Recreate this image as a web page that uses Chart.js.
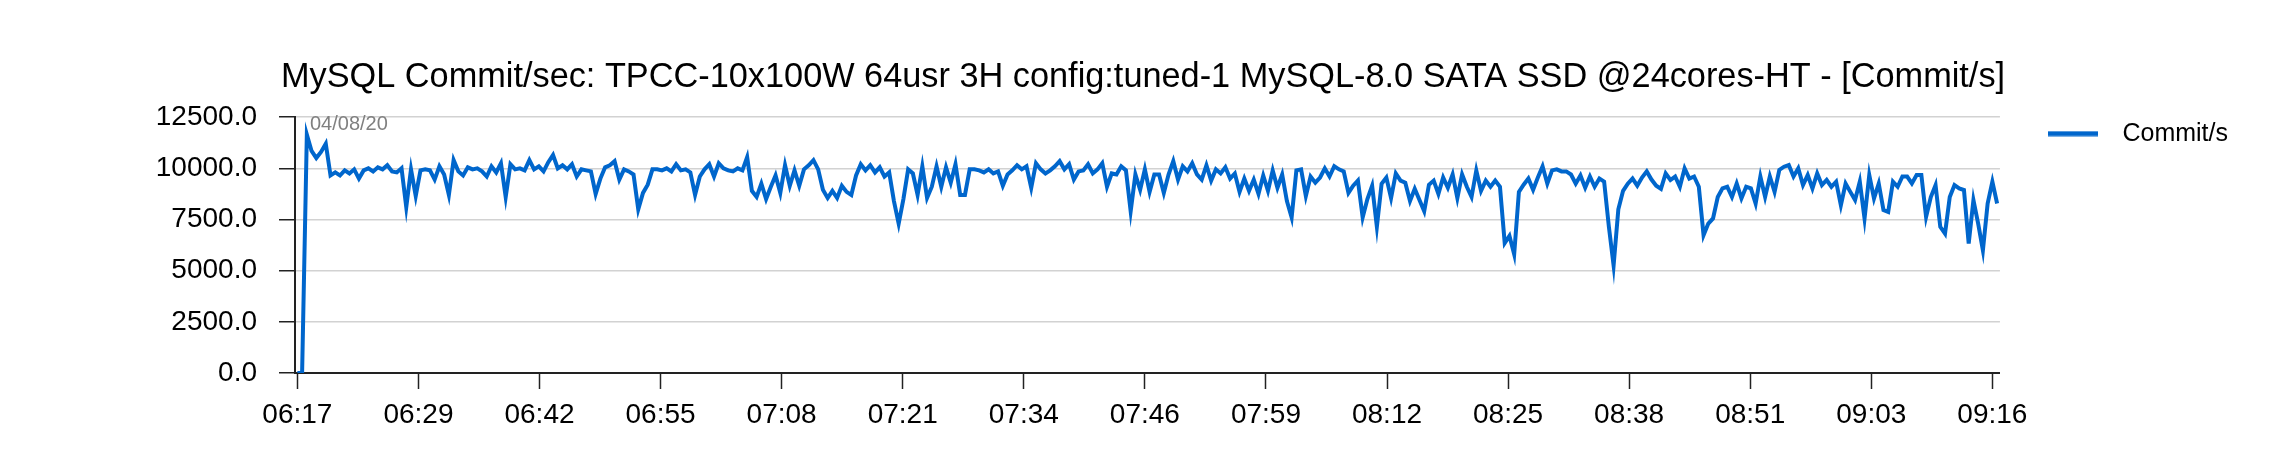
<!DOCTYPE html>
<html>
<head>
<meta charset="utf-8">
<title>MySQL Commit/sec</title>
<script src="https://cdn.jsdelivr.net/npm/chart.js@4.4.1/dist/chart.umd.min.js"></script>
<style>
  html, body { margin: 0; padding: 0; background: #fff; }
  #wrap { width: 2286px; height: 473px; }
</style>
</head>
<body>
<div id="wrap"><canvas id="chart" width="2286" height="473"></canvas></div>
<script>
const titleText = 'MySQL Commit/sec: TPCC-10x100W 64usr 3H config:tuned-1 MySQL-8.0 SATA SSD @24cores-HT - [Commit/s]'
const seriesName = 'Commit/s'
const dateLabel = '04/08/20'

// one sample every 30 sec, starting 06:17
const sampleMinutes = 0.5
const tickLabels = ['06:17', '06:29', '06:42', '06:55', '07:08', '07:21', '07:34', '07:46',
  '07:59', '08:12', '08:25', '08:38', '08:51', '09:03', '09:16']
const tickStepMinutes = 179 / 14
const yTicks = [0, 2500, 5000, 7500, 10000, 12500]

const commits = [
  // 06:17 - 06:53
  0, 0, 11650, 10850, 10500, 10800, 11200, 9650, 9800, 9650,
  9900, 9750, 9950, 9500, 9900, 10000, 9850, 10050, 9950, 10150,
  9850, 9800, 10000, 8100, 9950, 8650, 9900, 9950, 9900, 9450,
  10100, 9700, 8700, 10400, 9850, 9650, 10050, 9950, 10000, 9850,
  9600, 10100, 9800, 10250, 8600, 10200, 9950, 10000, 9900, 10400,
  9950, 10100, 9850, 10300, 10650, 10000, 10150, 9950, 10200, 9600,
  9950, 9900, 9850, 8750, 9500, 10050, 10150, 10350, 9450, 9950,
  9850, 9700,
  // 06:53 - 07:29
  8000, 8800, 9200, 9950, 9950, 9900, 10000, 9850, 10200, 9900,
  9950, 9800, 8700, 9600, 9950, 10200, 9600, 10250, 10000, 9900,
  9850, 10000, 9900, 10550, 8900, 8600, 9250, 8500, 9100, 9650,
  8800, 10150, 9150, 9900, 9150, 9950, 10150, 10400, 9950, 8950,
  8550, 8900, 8550, 9150, 8850, 8700, 9650, 10200, 9900, 10150,
  9800, 10050, 9600, 9800, 8400, 7300, 8500, 9950, 9750, 8700,
  10100, 8550, 9100, 10100, 9100, 10050, 9300, 10200, 8700, 8700,
  9950, 9950,
  // 07:29 - 08:05
  9900, 9800, 9950, 9750, 9850, 9150, 9700, 9900, 10150, 9950,
  10100, 9050, 10250, 9950, 9750, 9900, 10100, 10350, 9950, 10200,
  9450, 9850, 9900, 10200, 9750, 9950, 10250, 9100, 9750, 9700,
  10100, 9900, 7900, 9700, 8950, 9950, 8850, 9700, 9700, 8800,
  9700, 10350, 9450, 10100, 9850, 10250, 9700, 9450, 10150, 9400,
  9950, 9750, 10050, 9500, 9750, 8850, 9500, 8900, 9450, 8750,
  9650, 8900, 9900, 9050, 9700, 8400, 7600, 9900, 9950, 8650,
  9600, 9300,
  // 08:05 - 08:41
  9550, 10000, 9600, 10100, 9950, 9850, 8800, 9150, 9400, 7600,
  8500, 9150, 7150, 9250, 9550, 8550, 9750, 9400, 9300, 8400,
  9000, 8450, 7900, 9200, 9400, 8750, 9550, 9050, 9700, 8550,
  9700, 9100, 8600, 9900, 8900, 9400, 9100, 9400, 9100, 6350,
  6700, 5800, 8850, 9200, 9500, 8950, 9550, 10100, 9250, 9900,
  9950, 9850, 9850, 9700, 9250, 9650, 9050, 9600, 9100, 9500,
  9350, 7150, 5250, 8000, 8900, 9250, 9500, 9150, 9550, 9850,
  9450, 9150,
  // 08:41 - 09:17
  9000, 9750, 9430, 9600, 9100, 10000, 9500, 9600, 9100, 6730,
  7300, 7550, 8600, 9020, 9100, 8600, 9260, 8530, 9100, 9020,
  8280, 9600, 8600, 9600, 8850, 9920, 10080, 10160, 9600, 10000,
  9180, 9670, 9020, 9750, 9180, 9430, 9100, 9350, 8200, 9260,
  8850, 8450, 9350, 7550, 9670, 8530, 9260, 7960, 7870, 9350,
  9100, 9600, 9600, 9260, 9670, 9670, 7630, 8600, 9180, 7140,
  6810, 8600, 9180, 9020, 8940, 6320, 8450, 7300, 6000, 8280,
  9350, 8280
]

const lineColor = '#0066cc'
const fontFamily = "'Liberation Sans', Arial, Helvetica, sans-serif"

Chart.defaults.font.family = fontFamily
Chart.defaults.color = '#000'

// legend sample: short thick line with some empty room on both sides
const legendSwatch = document.createElement('canvas')
legendSwatch.width = 106
legendSwatch.height = 6
const sctx = legendSwatch.getContext('2d')
sctx.fillStyle = lineColor
sctx.fillRect(44, 0.5, 50, 5)

const dateStamp = {
  id: 'dateStamp',
  afterDraw(chart) {
    const { ctx, chartArea } = chart
    ctx.save()
    ctx.font = '20px ' + fontFamily
    ctx.fillStyle = '#808080'
    ctx.textAlign = 'left'
    ctx.textBaseline = 'alphabetic'
    ctx.fillText(dateLabel, chartArea.left + 15, chartArea.top + 13)
    ctx.restore()
  }
}

const ctx = document.getElementById('chart')
const myChart = new Chart(ctx, {
  type: 'line',
  data: {
    datasets: [{
      label: seriesName,
      data: commits.map((v, i) => ({ x: i * sampleMinutes, y: v })),
      borderColor: lineColor,
      backgroundColor: lineColor,
      borderWidth: 4,
      pointRadius: 0,
      tension: 0,
      fill: false
    }]
  },
  options: {
    responsive: false,
    animation: false,
    devicePixelRatio: 1,
    layout: { padding: { left: 48, right: 48, top: 0, bottom: 0 } },
    plugins: {
      title: {
        display: true,
        text: titleText,
        color: '#000',
        font: { size: 34.3, weight: 'normal' },
        padding: { top: 57, bottom: 19 }
      },
      legend: {
        position: 'right',
        align: 'start',
        fullSize: false,
        labels: {
          usePointStyle: true,
          pointStyle: legendSwatch,
          pointStyleWidth: 106,
          boxHeight: 6,
          padding: 4,
          color: '#000',
          font: { size: 25 }
        }
      },
      tooltip: { enabled: false }
    },
    scales: {
      x: {
        type: 'linear',
        min: -0.25,
        max: 179.8,
        afterBuildTicks: (axis) => {
          axis.ticks = tickLabels.map((_, i) => ({ value: i * tickStepMinutes }))
        },
        afterFit: (axis) => { axis.height = 100 },
        ticks: {
          autoSkip: false,
          maxRotation: 0,
          padding: 9,
          color: '#000',
          font: { size: 28 },
          callback: (value, index) => tickLabels[index]
        },
        grid: {
          drawOnChartArea: false,
          drawTicks: true,
          tickLength: 16,
          tickColor: '#222',
          tickWidth: 1.5
        },
        border: { color: '#222', width: 2 }
      },
      y: {
        min: 0,
        max: 12500,
        afterBuildTicks: (axis) => {
          axis.ticks = yTicks.map(v => ({ value: v }))
        },
        afterFit: (axis) => { axis.width = 247 },
        ticks: {
          padding: 22,
          color: '#000',
          font: { size: 28 },
          callback: (value) => value.toFixed(1)
        },
        grid: {
          color: '#d2d2d2',
          lineWidth: 1.5,
          tickLength: 16,
          tickColor: '#222',
          tickWidth: 1.5
        },
        border: { color: '#222', width: 2 }
      }
    }
  },
  plugins: [dateStamp]
})
</script>
</body>
</html>
